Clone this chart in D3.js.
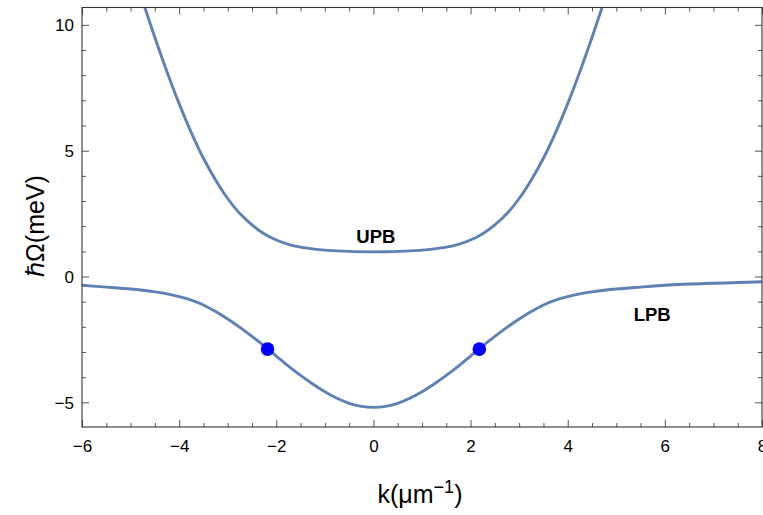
<!DOCTYPE html>
<html><head><meta charset="utf-8">
<script src="https://cdn.jsdelivr.net/npm/d3@7"></script>
<style>body{margin:0;background:#fff}svg{display:block}text{font-family:"Liberation Sans",Arial,sans-serif}</style>
</head><body>
<script>
// ---- data ----
const kLPB = [-6,-5.5,-5,-4.75,-4.5,-4.25,-4,-3.75,-3.5,-3.25,-3,-2.75,-2.5,-2.25,-2,-1.75,-1.5,-1.25,-1,-0.75,-0.5,-0.25,0,0.25,0.5,0.75,1,1.25,1.5,1.75,2,2.25,2.5,2.75,3,3.25,3.5,3.75,4,4.25,4.5,4.75,5,5.5,6,6.5,7,7.5,8];
const eLPB = [-0.35,-0.42,-0.495,-0.545,-0.61,-0.69,-0.80,-0.94,-1.13,-1.39,-1.69,-2.02,-2.38,-2.76,-3.16,-3.56,-3.93,-4.27,-4.58,-4.84,-5.04,-5.16,-5.20,-5.16,-5.04,-4.84,-4.58,-4.27,-3.93,-3.56,-3.16,-2.76,-2.38,-2.02,-1.69,-1.39,-1.13,-0.94,-0.80,-0.69,-0.61,-0.545,-0.495,-0.42,-0.35,-0.30,-0.27,-0.24,-0.21];
const kUPB = [-4.75,-4.5,-4.25,-4,-3.75,-3.5,-3.25,-3,-2.75,-2.5,-2.25,-2,-1.75,-1.5,-1.25,-1,-0.75,-0.5,-0.25,0,0.25,0.5,0.75,1,1.25,1.5,1.75,2,2.25,2.5,2.75,3,3.25,3.5,3.75,4,4.25,4.5,4.75];
const eUPB = [10.94,9.50,8.14,6.87,5.72,4.70,3.84,3.10,2.50,2.05,1.70,1.45,1.28,1.17,1.10,1.05,1.02,1.00,0.985,0.98,0.985,1.00,1.02,1.05,1.10,1.17,1.28,1.45,1.70,2.05,2.50,3.10,3.84,4.70,5.72,6.87,8.14,9.50,10.94];
const kMarked = [-2.18, 2.18];
const eMarked = [-2.885, -2.885];
const xTicks = [-6,-4,-2,0,2,4,6,8];
const yTicks = [-5,0,5,10];
const xDomain = [-6, 8];
const yDomain = [-5.98, 10.69];
const branchLabels = [{text:"UPB", k:0.05, e:1.35},{text:"LPB", k:5.74, e:-1.78}];

// ---- layout ----
const W = 763, H = 515;
const L = 82, R = 762, T = 7.5, B = 427;
const svg = d3.select("body").append("svg").attr("width", W).attr("height", H);
const x = d3.scaleLinear().domain(xDomain).range([L, R]);
const y = d3.scaleLinear().domain(yDomain).range([B, T]);

svg.append("clipPath").attr("id","clip").append("rect")
  .attr("x", L).attr("y", T).attr("width", R-L).attr("height", B-T);

const lineColor = "#5E81B5";
const line = d3.line().x(d=>x(d[0])).y(d=>y(d[1])).curve(d3.curveCatmullRom.alpha(0.5));
const g = svg.append("g").attr("clip-path","url(#clip)");
g.append("path").datum(d3.zip(kLPB, eLPB)).attr("d", line)
  .attr("fill","none").attr("stroke",lineColor).attr("stroke-width",2.9);
g.append("path").datum(d3.zip(kUPB, eUPB)).attr("d", line)
  .attr("fill","none").attr("stroke",lineColor).attr("stroke-width",2.9);
g.selectAll("circle.pt").data(d3.zip(kMarked, eMarked)).join("circle")
  .attr("class","pt").attr("cx", d=>x(d[0])).attr("cy", d=>y(d[1])).attr("r", 6.8).attr("fill","#0000FF");

// ---- frame and ticks ----
const tickColor = "#555";
const xMinor = d3.range(-6, 8.001, 0.5).filter(v => !xTicks.includes(v));
const yMinor = d3.range(-5, 10.001, 1).filter(v => !yTicks.includes(v));
const fmt = v => (v < 0 ? "\u2212" + Math.abs(v) : String(v));

function axisSetup(ax, size){ return ax.tickSizeInner(size).tickSizeOuter(0).tickPadding(0); }
const gb = svg.append("g").attr("transform",`translate(0,${B})`)
  .call(axisSetup(d3.axisBottom(x).tickValues(xTicks).tickFormat(fmt), -7));
gb.selectAll("text").attr("y", 13).attr("dy","0.71em");
svg.append("g").attr("transform",`translate(0,${B})`)
  .call(axisSetup(d3.axisBottom(x).tickValues(xMinor).tickFormat(""), -4));
svg.append("g").attr("transform",`translate(0,${T})`)
  .call(axisSetup(d3.axisTop(x).tickValues(xTicks).tickFormat(""), -7));
svg.append("g").attr("transform",`translate(0,${T})`)
  .call(axisSetup(d3.axisTop(x).tickValues(xMinor).tickFormat(""), -4));
const gl = svg.append("g").attr("transform",`translate(${L},0)`)
  .call(axisSetup(d3.axisLeft(y).tickValues(yTicks).tickFormat(fmt), -7));
gl.selectAll("text").attr("x", -8).attr("dy","0.36em");
svg.append("g").attr("transform",`translate(${L},0)`)
  .call(axisSetup(d3.axisLeft(y).tickValues(yMinor).tickFormat(""), -4));
svg.append("g").attr("transform",`translate(${R},0)`)
  .call(axisSetup(d3.axisRight(y).tickValues(yTicks).tickFormat(""), -7));
svg.append("g").attr("transform",`translate(${R},0)`)
  .call(axisSetup(d3.axisRight(y).tickValues(yMinor).tickFormat(""), -4));

svg.selectAll(".domain").remove();
svg.selectAll(".tick line").attr("stroke", tickColor).attr("stroke-width", 1);
svg.selectAll(".tick text").attr("font-size", 17).attr("fill", "#000")
  .attr("font-family", '"Liberation Sans",Arial,sans-serif');

svg.append("rect").attr("x", L).attr("y", T).attr("width", R-L).attr("height", B-T)
  .attr("fill","none").attr("stroke","#333").attr("stroke-width",1.1);

// ---- branch labels ----
svg.selectAll("text.blab").data(branchLabels).join("text").attr("class","blab")
  .attr("x", d=>x(d.k)).attr("y", d=>y(d.e)).attr("text-anchor","middle")
  .attr("font-size", 18.5).attr("font-weight","bold").attr("fill","#000").text(d=>d.text);

// ---- axis titles ----
const xt = svg.append("text").attr("x", 420).attr("y", 503).attr("text-anchor","middle")
  .attr("font-size", 25).attr("fill","#000");
xt.append("tspan").text("k(\u03BCm");
xt.append("tspan").attr("dy", -10).attr("font-size", 18).text("\u22121");
xt.append("tspan").attr("dy", 10).text(")");

svg.append("text").attr("transform","translate(44,226) rotate(-90)").attr("text-anchor","middle")
  .attr("font-size", 25).attr("fill","#000").text("\u210F\u03A9(meV)");
</script>
</body></html>
